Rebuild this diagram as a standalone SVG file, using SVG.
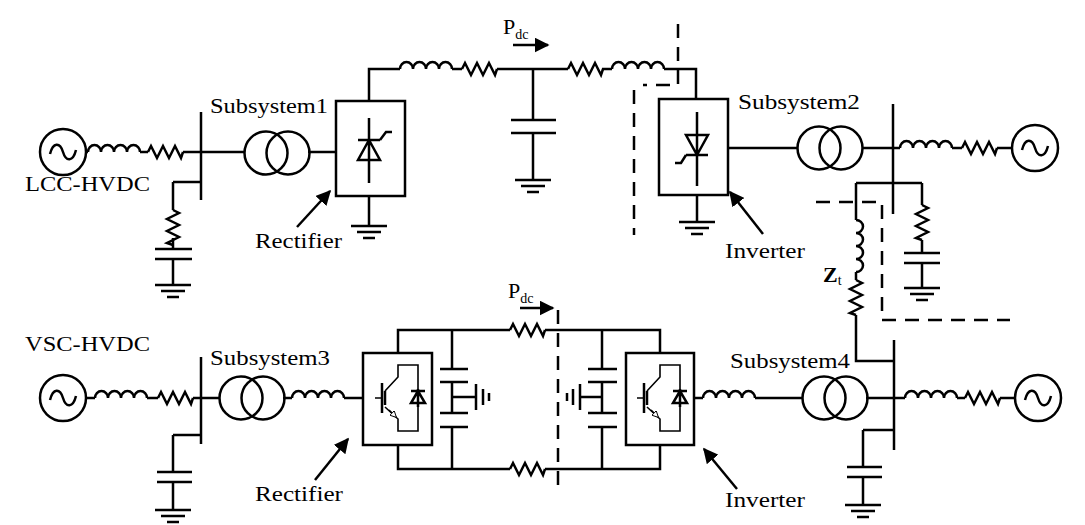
<svg xmlns="http://www.w3.org/2000/svg" xmlns:xlink="http://www.w3.org/1999/xlink" width="1085" height="525" viewBox="0 0 1085 525">
<style>
.w{fill:none;stroke:#000;stroke-width:2.5}
.t{fill:none;stroke:#000;stroke-width:1.6}
.d{fill:none;stroke:#000;stroke-width:2.5;stroke-dasharray:14,9}
text{font-family:"Liberation Serif","DejaVu Serif",serif;font-size:22px;fill:#000}
</style>
<defs>
<marker id="ar" viewBox="0 0 10 10" refX="9" refY="5" markerWidth="6" markerHeight="6" orient="auto"><path d="M0,0L10,5L0,10z"/></marker>
<marker id="ar2" viewBox="0 0 10 10" refX="9" refY="5" markerWidth="4" markerHeight="4" orient="auto"><path d="M0,0L10,5L0,10z" fill="#fff" stroke="#000" stroke-width="1.5"/></marker>
<path id="ind" class="w" d="M0,0a6.5,7 0 0 1 13,0a6.5,7 0 0 1 13,0a6.5,7 0 0 1 13,0a6.5,7 0 0 1 13,0"/>
<path id="res" class="w" d="M0,0l3,-6l6,12l6,-12l6,12l6,-12l6,12l2,-6"/>
<g id="gnd" class="w"><path d="M-18,0h36M-12,6h24M-6,12h12"/></g>
<g id="src"><circle r="23" class="w"/><path class="w" d="M-13,2c3,-12 10,-12 13,-2s10,10 13,-2"/></g>
<g id="tr"><circle cx="-11" r="21.5" class="w"/><circle cx="11" r="21.5" class="w"/></g>
<g id="igbt">
<path class="w" stroke-width="3.5" d="M19,30v30"/>
<path class="t" d="M12,45h7M22,38l13,-14v-12h20v66h-20v-12l-13,-12"/>
<path class="w" d="M22,38v14" />
<path class="t" d="M26,57l7,7" marker-end="url(#ar2)"/>
<path class="w" d="M55,36v18M48,38h14M55,38l-7,12h14z" fill="#000"/>
</g>
</defs>

<g id="connectors">
<path class="w" d="M86,152h2M140,152h8M183,152h18M201,152h44M308,152h28M173,182h28M173,182v28M173,238v11M173,259v26"/>
<path class="w" d="M155,249h37M155,259h37"/>
<use href="#ind" x="88" y="152"/><use href="#res" x="148" y="152"/>
<use href="#res" transform="translate(173,210) rotate(90)"/>
<use href="#gnd" x="173" y="285"/>
<path class="w" d="M369,101v-32h31M452,69h10M497,69h71M602,69h10M664,69h32v30"/>
<use href="#ind" x="400" y="69"/><use href="#res" x="462" y="69"/>
<use href="#res" x="568" y="69"/><use href="#ind" x="612" y="69"/>
<path class="w" d="M533,69v51M511,120h45M511,133h45M533,133v47"/>
<use href="#gnd" x="533" y="180"/>
<path class="w" d="M369,196v30M697,195v27"/>
<use href="#gnd" x="369" y="226"/><use href="#gnd" x="697" y="222"/>
<path class="w" d="M728,148h70M862,148h38M952,148h10M997,148h15"/>
<use href="#ind" x="900" y="148"/><use href="#res" x="962" y="148"/>
<path class="w" d="M856,183h66M856,183v37M922,183v22M922,240v13M904,253h36M904,263h36M922,263v25"/>
<use href="#gnd" x="922" y="288"/>
<use href="#ind" transform="translate(856,220) rotate(90)"/>
<path class="w" d="M856,272v8M856,315v46h38"/>
<use href="#res" transform="translate(856,280) rotate(90)"/>
<use href="#res" transform="translate(922,205) rotate(90)"/>
<path class="w" d="M86,398h9M147,398h11M193,398h27M283,398h9M344,398h19M173,435h28M173,435v37M157,472h35M157,482h35M173,482v28"/>
<use href="#ind" x="95" y="398"/><use href="#res" x="158" y="398"/><use href="#ind" x="292" y="398"/>
<use href="#gnd" x="173" y="510"/>
<path class="w" d="M398,353v-23h112M545,330h115v23M398,445v24h112M545,469h115v-24"/>
<use href="#res" x="510" y="330"/><use href="#res" x="510" y="469"/>
<path class="w" d="M452,330v39M440,369h28M440,382h28M452,382v31M440,413h28M440,427h28M452,427v42M452,397h24"/>
<path class="w" d="M476,384v26M483,389v16M489,393v8"/>
<path class="w" d="M602,330v39M588,369h29M588,382h29M602,382v31M588,413h29M588,427h29M602,427v42M602,397h-22"/>
<path class="w" d="M580,384v26M573,389v16M567,393v8"/>
<path class="w" d="M694,398h9M755,398h47M866,398h39M957,398h8M1000,398h15M863,430h31M863,430v37M847,467h35M847,477h35M863,477v28"/>
<use href="#ind" x="703" y="398"/><use href="#ind" x="905" y="398"/><use href="#res" x="965" y="398"/>
<use href="#gnd" x="863" y="505"/>
<path class="d" d="M678,24v61h-35M634,90v145"/>
<path class="d" d="M816,202h66v118h128"/>
<path class="d" d="M558,310v178"/>
<path class="w" d="M513,45h35" marker-end="url(#ar)"/>
<path class="w" d="M520,308h33" marker-end="url(#ar)"/>
<path class="w" d="M297,227l33,-36" marker-end="url(#ar)"/>
<path class="w" d="M763,234l-33,-42" marker-end="url(#ar)"/>
<path class="w" d="M315,480l33,-41" marker-end="url(#ar)"/>
<path class="w" d="M737,489l-33,-40" marker-end="url(#ar)"/>
</g>

<g id="src1"><use href="#src" x="63" y="152"/></g>
<g id="src2"><use href="#src" x="1035" y="148"/></g>
<g id="src3"><use href="#src" x="63" y="398"/></g>
<g id="src4"><use href="#src" x="1038" y="398"/></g>
<g id="bus1"><path class="w" stroke-width="3.5" d="M201,112v88"/></g>
<g id="bus2"><path class="w" d="M893,104v110"/></g>
<g id="bus3"><path class="w" stroke-width="3.5" d="M201,357v87"/></g>
<g id="bus4"><path class="w" d="M894,340v110"/></g>
<g id="tr1"><use href="#tr" x="277" y="153"/></g>
<g id="tr2"><use href="#tr" x="830" y="148"/></g>
<g id="tr3"><use href="#tr" x="252" y="398"/></g>
<g id="tr4"><use href="#tr" x="835" y="398"/></g>
<g id="rect1">
<rect x="336" y="101" width="69" height="95" class="w"/>
<path class="w" d="M369,118v65M358,140h22M369,140l-11,20h22z M380,140l6,-8h6"/>
</g>
<g id="inv1">
<rect x="659" y="99" width="69" height="96" class="w"/>
<path class="w" d="M697,112v74M686,135h22l-11,20z M686,155h22M686,155l-5,8h-6"/>
</g>
<g id="rect2"><rect x="363" y="353" width="69" height="92" class="w"/><use href="#igbt" x="363" y="353"/></g>
<g id="inv2"><rect x="626" y="353" width="68" height="92" class="w"/><use href="#igbt" x="625" y="353"/></g>

<g id="labels">
<text x="210" y="113" textLength="118" lengthAdjust="spacingAndGlyphs">Subsystem1</text>
<text x="25" y="191" textLength="125" lengthAdjust="spacingAndGlyphs">LCC-HVDC</text>
<text x="255" y="248" textLength="87" lengthAdjust="spacingAndGlyphs">Rectifier</text>
<text x="503" y="34">P<tspan font-size="14" dy="5">dc</tspan></text>
<text x="738" y="109" textLength="122" lengthAdjust="spacingAndGlyphs">Subsystem2</text>
<text x="725" y="258" textLength="80" lengthAdjust="spacingAndGlyphs">Inverter</text>
<text x="823" y="282" font-weight="bold">Z<tspan font-weight="normal" font-size="14" dy="3">t</tspan></text>
<text x="25" y="351" textLength="125" lengthAdjust="spacingAndGlyphs">VSC-HVDC</text>
<text x="210" y="365" textLength="120" lengthAdjust="spacingAndGlyphs">Subsystem3</text>
<text x="508" y="298">P<tspan font-size="14" dy="5">dc</tspan></text>
<text x="730" y="368" textLength="120" lengthAdjust="spacingAndGlyphs">Subsystem4</text>
<text x="255" y="501" textLength="88" lengthAdjust="spacingAndGlyphs">Rectifier</text>
<text x="725" y="507" textLength="80" lengthAdjust="spacingAndGlyphs">Inverter</text>
</g>
</svg>
